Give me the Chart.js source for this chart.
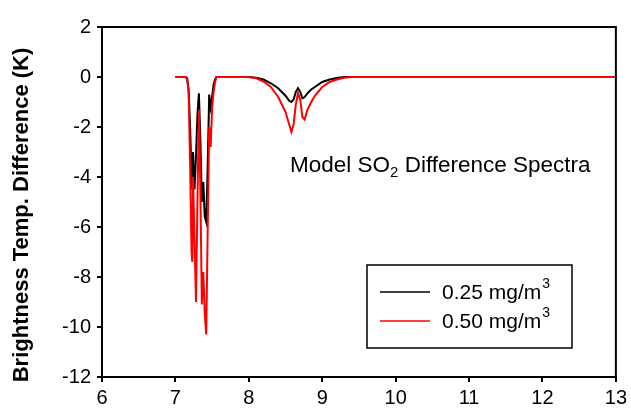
<!DOCTYPE html>
<html>
<head>
<meta charset="utf-8">
<script src="https://cdn.jsdelivr.net/npm/chart.js@4.4.1/dist/chart.umd.min.js"></script>
<style>
  html, body { margin: 0; padding: 0; background: #fff; }
  #wrap { width: 631px; height: 412px; position: relative; }
</style>
</head>
<body>
<div id="wrap"><canvas id="chart"></canvas></div>
<script>
// wavelength (µm) and brightness temperature difference (K)
const wavelength = [
  7.00, 7.10, 7.12, 7.14, 7.16, 7.18, 7.20, 7.22, 7.23, 7.24, 7.26, 7.28, 7.30, 7.32,
  7.34, 7.36, 7.37, 7.38, 7.40, 7.42, 7.44, 7.46, 7.48, 7.50, 7.52, 7.54, 7.56, 7.58, 7.60,
  8.00, 8.10, 8.20, 8.30, 8.40, 8.45, 8.50, 8.55, 8.58, 8.61, 8.64, 8.67, 8.70,
  8.73, 8.76, 8.80, 8.85, 8.90, 9.00, 9.10, 9.20, 9.30, 9.40, 13.00
]
const diff025 = [
  0, 0, 0, 0, -0.05, -0.5, -2.0, -4.0, -4.5, -3.0, -4.5, -3.2, -1.5, -0.65,
  -2.5, -5.0, -4.6, -4.2, -5.6, -5.8, -3.5, -0.7, -1.2, -0.8, -0.3, -0.1, 0, 0, 0,
  0, -0.03, -0.1, -0.25, -0.45, -0.6, -0.75, -0.95, -1.0, -0.9, -0.6, -0.45, -0.6,
  -0.85, -0.8, -0.65, -0.5, -0.4, -0.2, -0.1, -0.04, 0, 0, 0
]
const diff050 = [
  0, 0, 0, 0, -0.1, -0.6, -3.5, -7.0, -7.4, -4.0, -6.5, -9.0, -5.0, -1.3,
  -4.5, -9.1, -8.2, -7.8, -9.5, -10.3, -6.0, -2.0, -2.8, -1.2, -0.6, -0.2, 0, 0, 0,
  0, -0.05, -0.18, -0.4, -0.8, -1.1, -1.4, -1.9, -2.2, -1.9, -1.1, -0.65, -0.9,
  -1.6, -1.7, -1.3, -1.0, -0.75, -0.4, -0.2, -0.1, -0.03, 0, 0
]
const seriesLabels = ['0.25 mg/m', '0.50 mg/m']
const xTicks = [6, 7, 8, 9, 10, 11, 12, 13]
const yTicks = [-12, -10, -8, -6, -4, -2, 0, 2]

const FONT = '"Liberation Sans", Arial, sans-serif'

const toPoints = ys => wavelength.map((x, i) => ({ x, y: ys[i] }))

// рамка, подпись оси, надпись и легенда
const decor = {
  id: 'decor',
  afterDatasetsDraw(chart) {
    const { ctx, chartArea: a } = chart
    ctx.save()
    ctx.strokeStyle = '#000'
    ctx.lineWidth = 2
    ctx.strokeRect(a.left, a.top, a.right - a.left, a.bottom - a.top)

    ctx.fillStyle = '#000'

    // y title
    ctx.save()
    ctx.translate(22, 215)
    ctx.rotate(-Math.PI / 2)
    ctx.font = 'bold 22px ' + FONT
    ctx.textAlign = 'center'
    ctx.textBaseline = 'middle'
    ctx.fillText('Brightness Temp. Difference (K)', 0, 0)
    ctx.restore()

    // annotation
    ctx.textBaseline = 'alphabetic'
    ctx.font = '22.5px ' + FONT
    let x = 290, y = 172
    ctx.fillText('Model SO', x, y)
    x += ctx.measureText('Model SO').width
    ctx.font = '15px ' + FONT
    ctx.fillText('2', x, y + 5)
    x += ctx.measureText('2').width
    ctx.font = '22.5px ' + FONT
    ctx.fillText(' Difference Spectra', x, y)

    // legend
    ctx.lineWidth = 1.5
    ctx.strokeRect(367, 265, 205, 83)
    chart.data.datasets.forEach((ds, i) => {
      const ly = 292 + i * 29
      ctx.strokeStyle = ds.borderColor
      ctx.lineWidth = 1.5
      ctx.beginPath()
      ctx.moveTo(380, ly)
      ctx.lineTo(430, ly)
      ctx.stroke()
      ctx.font = '21px ' + FONT
      ctx.textBaseline = 'middle'
      ctx.fillText(ds.label, 442, ly + 1)
      const w = ctx.measureText(ds.label).width
      ctx.font = '14px ' + FONT
      ctx.fillText('3', 442 + w + 1, ly - 8)
    })
    ctx.restore()
  }
}

new Chart(document.getElementById('chart'), {
  type: 'line',
  data: {
    datasets: [
      { label: seriesLabels[0], data: toPoints(diff025), borderColor: '#000', borderWidth: 2, pointRadius: 0, order: 1 },
      { label: seriesLabels[1], data: toPoints(diff050), borderColor: '#ff0000', borderWidth: 2, pointRadius: 0, order: 0 }
    ]
  },
  options: {
    responsive: true,
    maintainAspectRatio: false,
    animation: false,
    layout: { padding: { top: 27, right: 15, left: 0, bottom: 0 } },
    plugins: { legend: { display: false }, tooltip: { enabled: false } },
    elements: { line: { tension: 0 } },
    scales: {
      x: {
        type: 'linear', min: 6, max: 13,
        afterBuildTicks: s => { s.ticks = xTicks.map(v => ({ value: v })) },
        afterFit: s => { s.height = 35 },
        grid: { drawOnChartArea: false, drawTicks: true, tickLength: 5, color: '#000', lineWidth: 2 },
        border: { color: '#000', width: 2 },
        ticks: { color: '#000', font: { family: FONT, size: 20 }, padding: 4, maxRotation: 0 }
      },
      y: {
        min: -12, max: 2,
        afterBuildTicks: s => { s.ticks = yTicks.map(v => ({ value: v })) },
        afterFit: s => { s.width = 102 },
        grid: { drawOnChartArea: false, drawTicks: true, tickLength: 5, color: '#000', lineWidth: 2 },
        border: { color: '#000', width: 2 },
        ticks: { color: '#000', font: { family: FONT, size: 20 }, padding: 6 }
      }
    }
  },
  plugins: [decor]
})
</script>
</body>
</html>
